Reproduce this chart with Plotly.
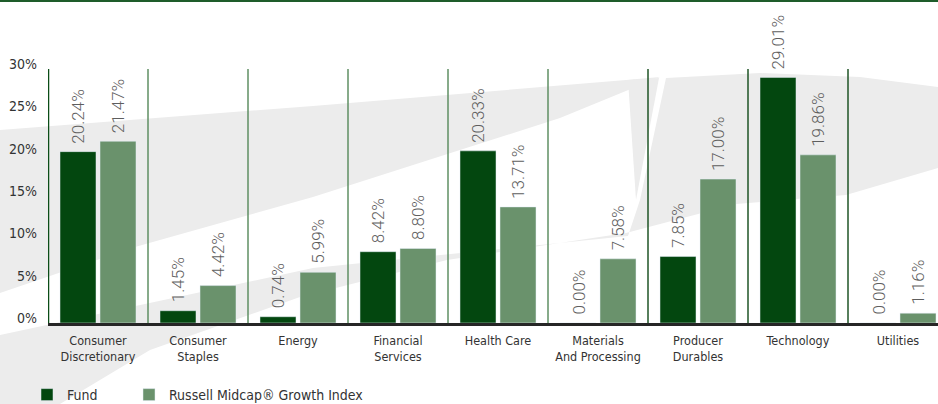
import plotly.graph_objects as go

categories = ["Consumer<br>Discretionary", "Consumer<br>Staples", "Energy", "Financial<br>Services",
              "Health Care", "Materials<br>And Processing", "Producer<br>Durables", "Technology", "Utilities"]
fund = [20.24, 1.45, 0.74, 8.42, 20.33, 0.00, 7.85, 29.01, 0.00]
index = [21.47, 4.42, 5.99, 8.80, 13.71, 7.58, 17.00, 19.86, 1.16]
series_names = ["Fund", "Russell Midcap\u00ae Growth Index"]
y_ticks = [0, 5, 10, 15, 20, 25, 30]
y_ticktext = [f"{v}%" for v in y_ticks]

W, H = 938, 404
L, R, T, B = 48, 0, 69, 81
PW, PH = W - L - R, H - T - B

FUND_C = "#03470f"
IDX_C = "#6a926c"
GRAY_BG = "#ececec"
CFONT = "Liberation Sans Narrow, DejaVu Sans Condensed, Roboto, sans-serif"


def px(x):
    return (x - L) / PW


def py(y):
    return (H - B - y) / PH


def path(points):
    return "M" + " L".join(f"{px(x):.5f},{py(y):.5f}" for x, y in points) + " Z"


xs = list(range(len(categories)))

fig = go.Figure()
fig.add_trace(go.Bar(x=xs, y=fund, name=series_names[0], marker_color=FUND_C,
                     width=0.36, offset=-0.38, hoverinfo="skip", legend="legend"))
fig.add_trace(go.Bar(x=xs, y=index, name=series_names[1], marker_color=IDX_C,
                     width=0.36, offset=0.02, hoverinfo="skip", legend="legend2"))

shapes = []
# decorative background swoosh (pixel outline converted to paper coords)
bg_polys = [
    [(0, 130), (313, 106), (626, 80), (660, 77), (560, 118), (313, 197), (135, 247), (0, 293)],
    [(628, 80), (659, 78), (636, 200)],
    [(666, 78), (760, 73), (860, 77), (938, 87), (938, 168), (846, 195), (736, 204), (626, 233),
     (447, 260), (300, 297), (150, 350), (60, 404), (0, 404), (0, 335), (313, 268), (628, 236),
     (640, 200)],
]
for poly in bg_polys:
    shapes.append(dict(type="path", xref="paper", yref="paper", layer="below", path=path(poly),
                       fillcolor=GRAY_BG, line=dict(width=0)))
# top rule
shapes.append(dict(type="line", xref="paper", yref="paper", x0=px(0), x1=px(W), y0=py(1), y1=py(1),
                   line=dict(color="#1e5c2a", width=2)))
# category separators
for i in range(len(categories)):
    xpos = i - 0.5
    col = "#0b4d17" if i == 0 else ("#5f8f63" if i < 6 else "#1f5526")
    wid = 2.5 if i == 0 else 1.5
    shapes.append(dict(type="line", xref="x", yref="y", x0=xpos, x1=xpos, y0=0, y1=30,
                       line=dict(color=col, width=wid), layer="above"))

annotations = []
for i, (f, v) in enumerate(zip(fund, index)):
    for val, off in ((f, -0.2), (v, 0.2)):
        annotations.append(dict(x=i + off, y=val, xref="x", yref="y", text=f"{val:.2f}%",
                                textangle=-90, showarrow=False, yanchor="bottom", xanchor="center",
                                yshift=6, font=dict(family="Roboto, sans-serif", size=17,
                                                    color="#5e5e5e", weight=300)))

legend_common = dict(orientation="h", xanchor="left", yanchor="middle",
                     font=dict(family=CFONT, size=14, color="#333333"), bgcolor="rgba(0,0,0,0)")

fig.update_layout(
    width=W, height=H,
    margin=dict(l=L, r=R, t=T, b=B, pad=0, autoexpand=False),
    paper_bgcolor="white", plot_bgcolor="rgba(0,0,0,0)",
    barmode="overlay",
    shapes=shapes, annotations=annotations,
    showlegend=True,
    legend=dict(x=px(27), y=py(395), **legend_common),
    legend2=dict(x=px(129), y=py(395), **legend_common),
    font=dict(family=CFONT, color="#333333"),
)
fig.update_xaxes(range=[-0.5, 8.4], tickvals=xs, ticktext=categories, showgrid=False,
                 zeroline=False, showline=True, linecolor="#262626", linewidth=2.5, ticks="",
                 tickfont=dict(family=CFONT, size=12.5, color="#333333"), fixedrange=True,
                 automargin=False, ticklabelstandoff=4)
fig.update_yaxes(range=[0, 30], tickvals=y_ticks, ticktext=y_ticktext, showgrid=False,
                 zeroline=False, showline=False, ticks="", ticklabelshift=-5, ticklabelstandoff=10,
                 tickfont=dict(family=CFONT, size=14, color="#333333"), fixedrange=True,
                 automargin=False)

fig.write_html("out.html", config={"displayModeBar": False})
